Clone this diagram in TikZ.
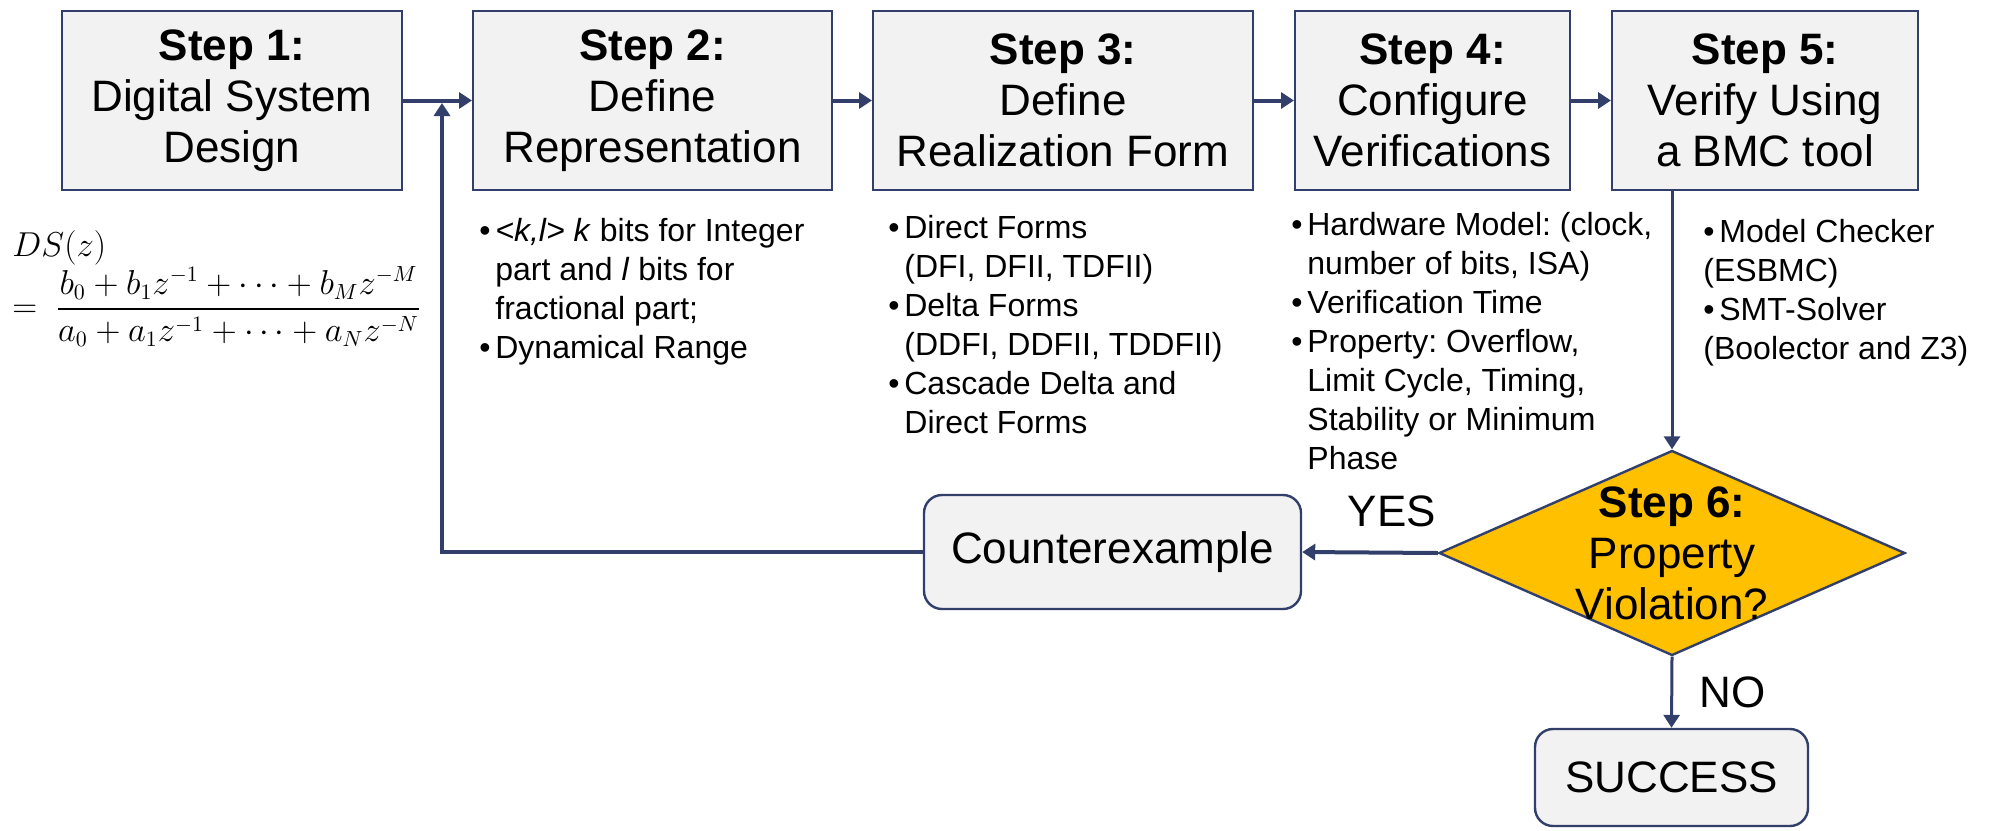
\documentclass[tikz,border=0pt]{standalone}
\usepackage{fontspec}
\setmainfont{Liberation Sans}
\usepackage{amsmath}
\usetikzlibrary{shapes.geometric,arrows.meta}
\definecolor{navy}{RGB}{50,63,107}
\definecolor{boxgray}{RGB}{242,242,242}
\definecolor{amber}{RGB}{255,192,0}
\newcommand{\bul}{\makebox[8pt][l]{\textbullet}}
\newcommand{\bsk}{\hspace*{8pt}}
\frenchspacing

\begin{document}
\begin{tikzpicture}[x=0.5pt,y=-0.5pt,
    stepbox/.style={draw=navy,line width=1pt,fill=boxgray,minimum height=89.5pt,inner sep=0pt,align=center,font=\fontsize{22}{25.5}\selectfont},
    endbox/.style={draw=navy,line width=1.2pt,fill=boxgray,rounded corners=9pt,inner sep=0pt,font=\fontsize{22}{25.5}\selectfont},
    notes/.style={anchor=north west,inner sep=0pt,align=left,font=\fontsize{16}{19.5}\selectfont},
    flow/.style={draw=navy,line width=2pt,-{Triangle[length=6.5pt,width=8pt]}},
    lbl/.style={inner sep=0pt,font=\fontsize{22}{25.5}\selectfont}]
\useasboundingbox (0,0) rectangle (1990,830);

% the five steps
\node[stepbox,minimum width=170pt] (s1) at (232,100.5) {\textbf{Step 1:}\\Digital System\\Design};
\node[stepbox,minimum width=179.5pt] (s2) at (652.5,100.5) {\textbf{Step 2:}\\Define\\Representation};
\node[stepbox,minimum width=190pt] (s3) at (1063,100.5) {\textbf{Step 3:}\\Define\\Realization Form};
\node[stepbox,minimum width=137.5pt] (s4) at (1432.5,100.5) {\textbf{Step 4:}\\Configure\\Verifications};
\node[stepbox,minimum width=153pt] (s5) at (1765,100.5) {\textbf{Step 5:}\\Verify Using\\a BMC tool};

% notes under the steps
\node[anchor=north west,inner sep=0pt,align=left,font=\fontsize{16}{19}\selectfont] (ds) at (12,230)
  {$DS(z)$\\$\displaystyle=\ \frac{b_0+b_1z^{-1}+\cdots+b_Mz^{-M}}{a_0+a_1z^{-1}+\cdots+a_Nz^{-N}}$};
\node[notes] (n2) at (479,218) {\bul\textit{<k,l> k} bits for Integer\\\bsk part and \textit{l} bits for\\\bsk fractional part;\\\bul Dynamical Range};
\node[notes] (n3) at (888,215) {\bul Direct Forms\\\bsk (DFI, DFII, TDFII)\\\bul Delta Forms\\\bsk (DDFI, DDFII, TDDFII)\\\bul Cascade Delta and\\\bsk Direct Forms};
\node[notes] (n4) at (1291,212) {\bul Hardware Model: (clock,\\\bsk number of bits, ISA)\\\bul Verification Time\\\bul Property: Overflow,\\\bsk Limit Cycle, Timing,\\\bsk Stability or Minimum\\\bsk Phase};
\node[notes] (n5) at (1703,219) {\bul Model Checker\\(ESBMC)\\\bul SMT-Solver\\(Boolector and Z3)};

% decision and outcomes
\node[diamond,draw=navy,line width=1.2pt,fill=amber,minimum width=233pt,minimum height=102.5pt,inner sep=0pt] (s6) at (1672,553) {};
\node[lbl,align=center] (s6t) at (s6.center) {\textbf{Step 6:}\\Property\\Violation?};
\node[endbox,minimum width=188.5pt,minimum height=57pt] (cex) at (1112.5,552) {Counterexample};
\node[endbox,minimum width=136.5pt,minimum height=48.5pt] (ok) at (1671.5,777.5) {SUCCESS};
\coordinate (fb) at (442,103);

\draw[flow] (s1.east) -- (s2.west);
\draw[flow] (s2.east) -- (s3.west);
\draw[flow] (s3.east) -- (s4.west);
\draw[flow] (s4.east) -- (s5.west);
\draw[flow,line width=1.5pt] (s6.north |- s5.south) -- (s6.north);
\draw[flow] (s6.west) -- node[lbl,above=12pt,pos=0.34]{YES} (cex.east);
\draw[flow,line width=1.5pt] (s6.south) -- node[lbl,right=13pt]{NO} (ok.north);
\draw[flow] (cex.west) -| (fb);
\end{tikzpicture}
\end{document}
